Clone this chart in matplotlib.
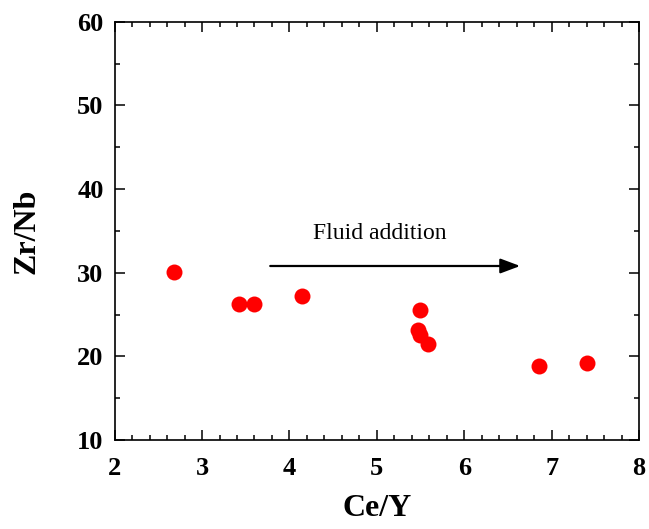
import matplotlib
matplotlib.use("Agg")
import matplotlib.pyplot as plt
from matplotlib.ticker import MultipleLocator

ce_y = [2.68, 3.42, 3.59, 4.14, 5.49, 5.47, 5.49, 5.59, 6.86, 7.40]
zr_nb = [30.1, 26.2, 26.3, 27.2, 25.6, 23.1, 22.5, 21.5, 18.8, 19.2]

arrow_start = (3.78, 30.8)
arrow_end = (6.64, 30.8)
arrow_text = "Fluid addition"
text_pos = (5.03, 34.7)

plt.rcParams['font.family'] = ['Liberation Serif', 'DejaVu Serif']

fig = plt.figure(figsize=(6.49, 5.29), dpi=100)
ax = fig.add_axes([0.1767, 0.1682, 0.8079, 0.7908])

ax.plot(ce_y, zr_nb, 'o', color='#ff0000', markersize=11.5, markeredgewidth=0)

ax.annotate("", xy=arrow_end, xytext=arrow_start,
            arrowprops=dict(arrowstyle='-|>,head_length=1.2,head_width=0.45',
                            color='black', lw=1.6, shrinkA=0, shrinkB=0))
ax.text(text_pos[0], text_pos[1], arrow_text, fontsize=17, ha='center', va='center')

ax.set_xlim(2, 8)
ax.set_ylim(10, 60)
ax.xaxis.set_major_locator(MultipleLocator(1))
ax.xaxis.set_minor_locator(MultipleLocator(0.2))
ax.yaxis.set_major_locator(MultipleLocator(10))
ax.yaxis.set_minor_locator(MultipleLocator(5))

ax.tick_params(which='both', direction='in', top=True, right=True, width=1.1)
ax.tick_params(which='major', length=7)
ax.tick_params(which='minor', length=3.5)
ax.tick_params(axis='x', pad=12)
ax.tick_params(axis='y', pad=8)
for lab in ax.get_xticklabels() + ax.get_yticklabels():
    lab.set_fontweight('bold')
    lab.set_fontsize(19)
for s in ax.spines.values():
    s.set_linewidth(1.2)

ax.set_xlabel("Ce/Y", fontsize=23, fontweight='bold', labelpad=10)
ax.set_ylabel("Zr/Nb", fontsize=23, fontweight='bold', labelpad=26)

fig.savefig("out.png", dpi=100)
